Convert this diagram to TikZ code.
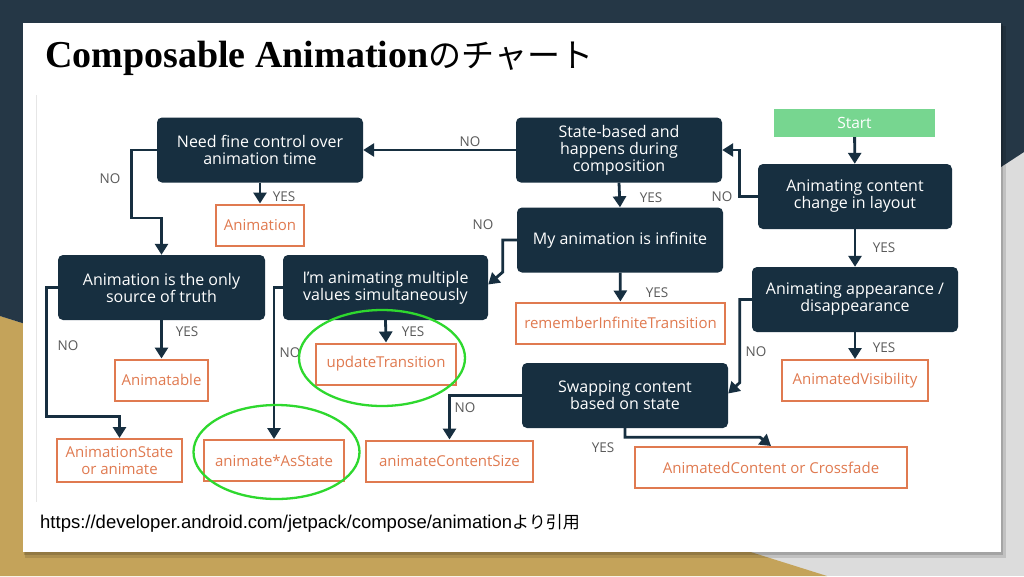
\documentclass[tikz,border=0pt]{standalone}
\usepackage{fontspec}
\usepackage{tikz}
\usetikzlibrary{positioning,arrows.meta,calc}
\setmainfont{Open Sans}
\newfontfamily\titlefont{Liberation Serif}
\newfontfamily\urlfont{Liberation Sans}
\newfontfamily\jpfont{Noto Sans CJK JP}
\definecolor{SlideNavy}{HTML}{253746}
\definecolor{SlideGold}{HTML}{C4A35A}
\definecolor{SlideGray}{HTML}{DCDCDC}
\definecolor{BoxNavy}{HTML}{172F40}
\definecolor{ApiOrange}{HTML}{E07A50}
\definecolor{StartGreen}{HTML}{77D690}
\definecolor{LabelGray}{HTML}{5A5A5A}
\definecolor{RingGreen}{HTML}{2ED82E}
\definecolor{FrameGray}{HTML}{E6E6E6}

\begin{document}
\begin{tikzpicture}[x=1pt, y=-1pt,
    question/.style={rectangle, fill=BoxNavy, rounded corners=5pt, text=white,
                     minimum width=206pt, minimum height=65pt, inner sep=0pt,
                     align=center, font=\fontsize{16}{17}\selectfont},
    answer/.style={rectangle, draw=ApiOrange, line width=2pt, text=ApiOrange,
                   minimum height=41pt, inner sep=0pt,
                   align=center, font=\fontsize{15}{16.5}\selectfont},
    startbox/.style={rectangle, fill=StartGreen, text=white, minimum width=161pt,
                     minimum height=28pt, inner sep=0pt, font=\fontsize{15.5}{15.5}\selectfont},
    arrow/.style={-{Triangle[length=11pt,width=13pt]}, line width=2.8pt, draw=BoxNavy},
    lbl/.style={text=LabelGray, inner sep=0pt, font=\fontsize{13.5}{13.5}\selectfont},
    ring/.style={draw=RingGreen, line width=2.3pt}
]
    \useasboundingbox (0,0) rectangle (1024,576);

    % slide background
    \fill[SlideGray] (0,0) rectangle (1024,576);
    \fill[SlideGold] (0,316) -- (827,576) -- (0,576) -- cycle;
    \fill[SlideNavy] (0,0) -- (1024,0) -- (1024,152) -- (521,480) -- (0,316) -- cycle;
    \fill[black, opacity=.12] (25,26) rectangle (1006,558);
    \fill[black, opacity=.15] (24,24) rectangle (1003,555);
    \fill[white] (23,23) rectangle (1001,552);
    \draw[FrameGray, line width=.8pt] (36,95) -- (36,502);

    % title and source
    \node[anchor=base west, inner sep=0pt] (title) at (45,67)
        {\titlefont\bfseries\fontsize{38}{38}\selectfont Composable Animation{\jpfont\mdseries\fontsize{33}{33}\selectfont のチャート}};
    \node[anchor=base west, inner sep=0pt] (source) at (40,528)
        {\urlfont\fontsize{18.5}{18.5}\selectfont https://developer.android.com/jetpack/compose/animation{\jpfont\fontsize{17}{17}\selectfont より引用}};

    % decisions
    \node[startbox] (start) at (854.5,123) {Start};
    \node[question, minimum width=194pt] (layout) at (855,196.5) {Animating content\\change in layout};
    \node[question] (statebased) at (619,150) {State-based and\\happens during\\composition};
    \node[question] (finetime) at (260,150) {Need fine control over\\animation time};
    \node[question] (infinite) at (620,240) {My animation is infinite};
    \node[question, minimum width=207pt] (truth) at (161.5,287.5) {Animation is the only\\source of truth};
    \node[question, minimum width=205pt] (multiple) at (385.5,287.5) {I'm animating multiple\\values simultaneously};
    \node[question] (appearance) at (855,299.5) {Animating appearance /\\disappearance};
    \node[question] (swapping) at (625,395.5) {Swapping content\\based on state};

    % APIs
    \node[answer, minimum width=88pt] (animation) at (260,225) {Animation};
    \node[answer, minimum width=209pt] (infinitetrans) at (620.5,323) {rememberInfiniteTransition};
    \node[answer, minimum width=140pt] (updatetrans) at (386,364) {updateTransition};
    \node[answer, minimum width=93pt] (animatable) at (161.5,380) {Animatable};
    \node[answer, minimum width=146pt] (visibility) at (855,380.5) {AnimatedVisibility};
    \node[answer, minimum width=125pt, minimum height=43pt] (animstate) at (119.5,460.5) {AnimationState\\or animate};
    \node[answer, minimum width=140pt] (asstate) at (274,460.5) {animate*AsState};
    \node[answer, minimum width=167pt] (contentsize) at (449.5,461) {animateContentSize};
    \node[answer, minimum width=272pt] (crossfade) at (771,467.5) {AnimatedContent or Crossfade};

    % connectors
    \draw[arrow] (start) -- (layout);
    \draw[arrow] (layout.west) -- ++(-18,0) |- (statebased.east);
    \draw[arrow] (statebased) -- (finetime);
    \draw[arrow] (statebased.south) -- (infinite.north);
    \draw[arrow] (finetime) -- (animation);
    \draw[arrow] (finetime.west) -- ++(-25,0) -- ++(0,68) -| (truth.north);
    \draw[arrow] (infinite.west) -- ++(-14,0) -- ++(0,32) -- ([yshift=3pt]multiple.east);
    \draw[arrow] (infinite) -- (infinitetrans);
    \draw[arrow] (truth.south) -- (animatable.north);
    \draw[arrow] (truth.west) -- ++(-11,0) -- ++(0,129) -| (animstate.north);
    \draw[arrow] (multiple.south) -- (updatetrans.north);
    \draw[arrow] (multiple.west) -| (asstate.north);
    \draw[arrow] (layout) -- (appearance);
    \draw[arrow] (appearance) -- (visibility);
    \draw[arrow] (appearance.west) -- ++(-12,0) -- ++(0,83) -- ([yshift=2pt]swapping.east);
    \draw[arrow] (swapping.west) -| (contentsize.north);
    \draw[arrow] (swapping.south) -- ++(0,9) -- ++(135,0) -- (crossfade.north);

    % branch labels
    \node[lbl] (noA) at (470,142) {NO};
    \node[lbl] (noB) at (110,179) {NO};
    \node[lbl] (yesA) at (284,197) {YES};
    \node[lbl] (yesB) at (651,198) {YES};
    \node[lbl] (noC) at (722,197) {NO};
    \node[lbl] (noD) at (483,225) {NO};
    \node[lbl] (yesC) at (884,248) {YES};
    \node[lbl] (yesD) at (657,293) {YES};
    \node[lbl] (yesE) at (187,332) {YES};
    \node[lbl] (noE) at (68,346) {NO};
    \node[lbl] (yesF) at (413,332) {YES};
    \node[lbl] (noF) at (290,353) {NO};
    \node[lbl] (noG) at (756,352) {NO};
    \node[lbl] (yesG) at (884,348) {YES};
    \node[lbl] (noH) at (465,408) {NO};
    \node[lbl] (yesH) at (603,448) {YES};

    % highlight rings
    \draw[ring] (382,358) ellipse [x radius=83pt, y radius=48pt];
    \draw[ring] (276.5,452) ellipse [x radius=83pt, y radius=47pt];
\end{tikzpicture}
\end{document}
